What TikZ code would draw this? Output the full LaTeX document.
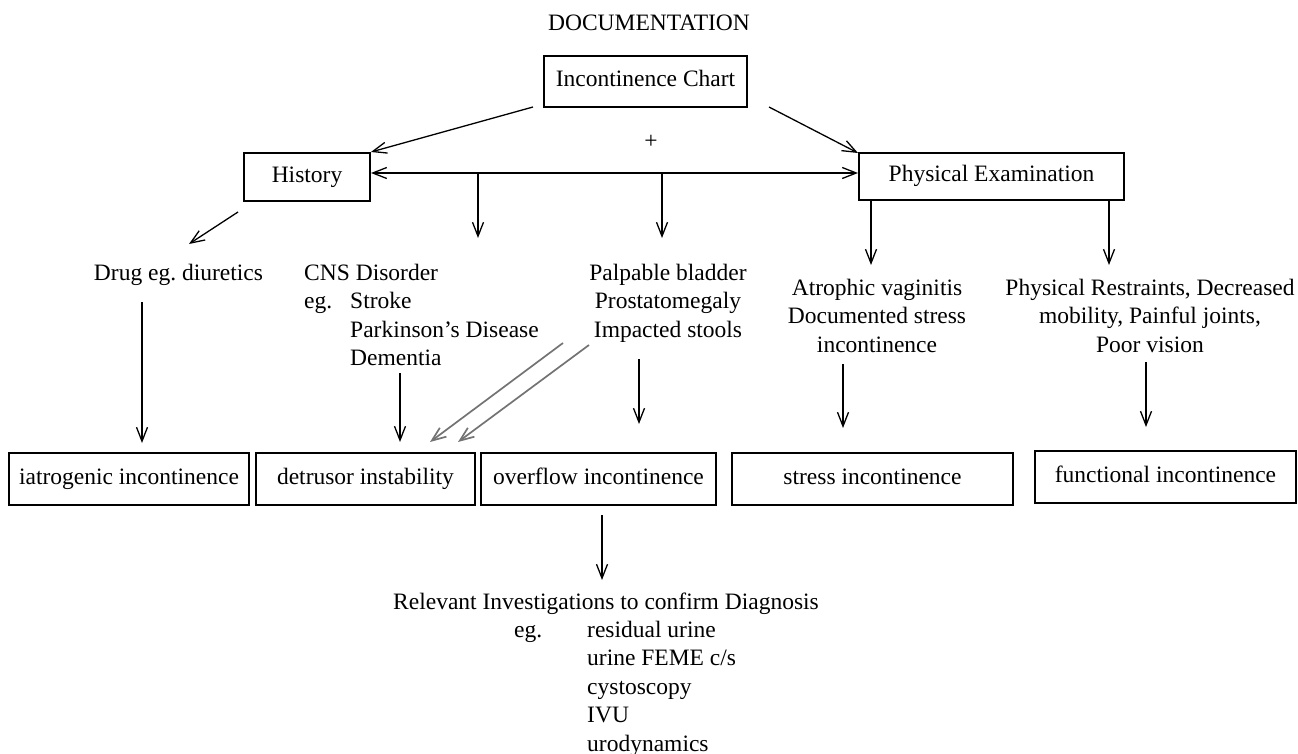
\documentclass[tikz,border=0pt]{standalone}
\usepackage{fontspec}
\setmainfont{Liberation Serif}
\usetikzlibrary{arrows.meta}
\frenchspacing
\begin{document}
\begin{tikzpicture}[x=1pt,y=-1pt,
  >={Straight Barb[length=14pt,width=11pt]},
  every node/.style={font=\fontsize{23.5}{28.5}\selectfont, inner sep=0pt},
  box/.style={draw, line width=1.5pt, text height=16pt, text depth=5pt},
  txt/.style={anchor=base},
  txtl/.style={anchor=base west},
  arr/.style={line width=1.3pt, ->},
  garr/.style={line width=1.7pt, draw=black!55, ->},
]
\useasboundingbox (0,0) rectangle (1298,754);

% title and top boxes
\node[txt] (title) at (649,31) {DOCUMENTATION};
\node[box, minimum width=203pt, minimum height=51pt] (chart) at (645.5,81.5) {Incontinence Chart};
\node[box, minimum width=126pt, minimum height=48pt] (hist) at (307,177) {History};
\node[box, minimum width=265pt, minimum height=47pt] (phys) at (991.5,176.5) {Physical Examination};
\node (plus) at (651,142) {+};

% middle texts
\node[txt] (drug) at (178.5,280) {Drug eg. diuretics};
\node[txtl] (cns) at (304,280) {CNS Disorder};
\node[txtl] (eg1) at (304,308.5) {eg.};
\node[txtl] (stroke) at (350,308.5) {Stroke};
\node[txtl] (park) at (350,337) {Parkinson's Disease};
\node[txtl] (dem) at (350,365.5) {Dementia};
\node[txt] (palp) at (668,280) {Palpable bladder};
\node[txt] (pros) at (668,308.5) {Prostatomegaly};
\node[txt] (imp) at (668,337) {Impacted stools};
\node[txt] (atr) at (877,295) {Atrophic vaginitis};
\node[txt] (docs) at (877,323.5) {Documented stress};
\node[txt] (inc) at (877,352) {incontinence};
\node[txt] (pr1) at (1150,295) {Physical Restraints, Decreased};
\node[txt] (pr2) at (1150,323.5) {mobility, Painful joints,};
\node[txt] (pr3) at (1150,352) {Poor vision};

% bottom boxes
\node[box, minimum width=240pt, minimum height=52pt] (iat) at (129,479) {iatrogenic incontinence};
\node[box, minimum width=219pt, minimum height=52pt] (det) at (365.5,479) {detrusor instability};
\node[box, minimum width=235pt, minimum height=52pt] (ovf) at (598.5,479) {overflow incontinence};
\node[box, minimum width=281pt, minimum height=52pt] (str) at (872.5,479) {stress incontinence};
\node[box, minimum width=261pt, minimum height=52pt] (fun) at (1165.5,477) {functional incontinence};

% investigations
\node[txt] (rel) at (606,609) {Relevant Investigations to confirm Diagnosis};
\node[txtl] (eg2) at (514,637) {eg.};
\node[txtl] (i1) at (587,637) {residual urine};
\node[txtl] (i2) at (587,665.5) {urine FEME c/s};
\node[txtl] (i3) at (587,694) {cystoscopy};
\node[txtl] (i4) at (587,722.5) {IVU};
\node[txtl] (i5) at (587,751) {urodynamics};

% connector end points
\coordinate (cA) at (533,107);
\coordinate (cB) at (769,107);
\coordinate (hA) at (371,152);
\coordinate (pA) at (858,153);
\coordinate (hE) at (371,173);
\coordinate (pW) at (858,173);
\coordinate (j1) at (478,173);
\coordinate (j2) at (662,173);
\coordinate (t1) at (478,238);
\coordinate (t2) at (662,238);
\coordinate (hB) at (238,212);
\coordinate (dT) at (189,244);
\coordinate (pB1) at (871,200);
\coordinate (aT) at (871,265);
\coordinate (pB2) at (1109,200);
\coordinate (rT) at (1109,265);
\coordinate (dB) at (142,302);
\coordinate (iT) at (142,443);
\coordinate (mB) at (400,373);
\coordinate (deT) at (400,442);
\coordinate (g1s) at (563,343);
\coordinate (g1e) at (430,442);
\coordinate (g2s) at (589,345);
\coordinate (g2e) at (458,442);
\coordinate (imB) at (639,359);
\coordinate (oT) at (639,424);
\coordinate (sB) at (843,364);
\coordinate (sT) at (843,428);
\coordinate (fB) at (1146,362);
\coordinate (fT) at (1146,427);
\coordinate (oB) at (602,515);
\coordinate (rlT) at (602,580);

% connectors
\draw[arr] (cA) -- (hA);
\draw[arr] (cB) -- (pA);
\draw[arr, <->] (hE) -- (pW);
\draw[arr] (j1) -- (t1);
\draw[arr] (j2) -- (t2);
\draw[arr] (hB) -- (dT);
\draw[arr] (pB1) -- (aT);
\draw[arr] (pB2) -- (rT);
\draw[arr] (dB) -- (iT);
\draw[arr] (mB) -- (deT);
\draw[garr] (g1s) -- (g1e);
\draw[garr] (g2s) -- (g2e);
\draw[arr] (imB) -- (oT);
\draw[arr] (sB) -- (sT);
\draw[arr] (fB) -- (fT);
\draw[arr] (oB) -- (rlT);
\end{tikzpicture}
\end{document}
